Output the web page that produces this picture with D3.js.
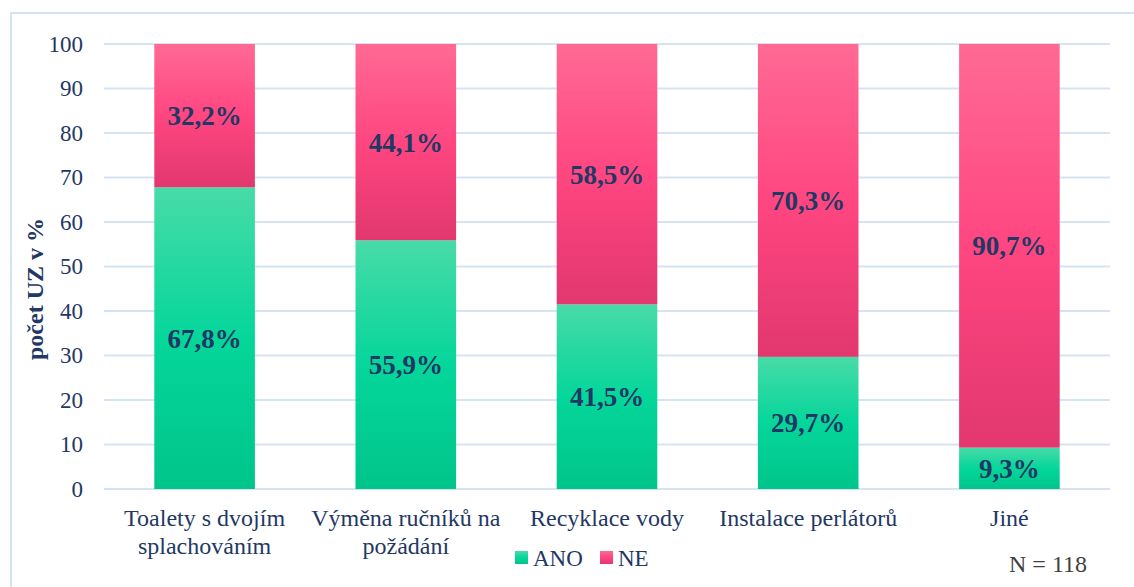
<!DOCTYPE html>
<html><head><meta charset="utf-8">
<script src="https://cdn.jsdelivr.net/npm/d3@7/dist/d3.min.js"></script>
</head><body style="margin:0">
<svg id="c" width="1134" height="587" font-family="Liberation Serif"></svg>
<script>
const categories = [["Toalety s dvojím","splachováním"],["Výměna ručníků na","požádání"],["Recyklace vody"],["Instalace perlátorů"],["Jiné"]];
const ano = [67.8, 55.9, 41.5, 29.7, 9.3];
const ne = [32.2, 44.1, 58.5, 70.3, 90.7];
const yTicks = [0,10,20,30,40,50,60,70,80,90,100];
const seriesNames = ["ANO","NE"];

const svg = d3.select("#c");
const txt = "#1f3864";
const FF = "Liberation Serif";
const defs = svg.append("defs");
function grad(id, stops){
  const g = defs.append("linearGradient").attr("id",id).attr("x1",0).attr("y1",0).attr("x2",0).attr("y2",1);
  stops.forEach(s=>g.append("stop").attr("offset",s[0]).attr("stop-color",s[1]));
}
grad("gAno",[[0,"#48dba8"],[0.5,"#05d69a"],[1,"#00c58b"]]);
grad("gNe",[[0,"#ff6a94"],[0.5,"#ff4681"],[1,"#e2376f"]]);

svg.append("rect").attr("x",11).attr("y",13).attr("width",1140).attr("height",600)
  .attr("fill","none").attr("stroke","#d3e2f4").attr("stroke-width",2);

const x = d3.scaleBand().domain(d3.range(categories.length)).range([104,1110]).paddingInner(0.5).paddingOuter(0.25);
const y = d3.scaleLinear().domain([0,100]).range([489,44]);

svg.append("g").selectAll("line").data(yTicks).join("line")
  .attr("x1",104).attr("x2",1110).attr("y1",d=>y(d)).attr("y2",d=>y(d))
  .attr("stroke","#d6e3f3").attr("stroke-width",2);

const yAxis = svg.append("g").attr("transform","translate(104,0)")
  .call(d3.axisLeft(y).tickValues(yTicks).tickSize(0).tickPadding(21));
yAxis.attr("font-family",FF).attr("font-size",23);
yAxis.select(".domain").remove();
yAxis.selectAll("text").style("font-family",FF).attr("font-size",23).attr("fill",txt);

const g = svg.append("g");
const fmt = v=>v.toFixed(1).replace(".",",")+"%";
categories.forEach((c,i)=>{
  const bx = x(i), bw = x.bandwidth();
  g.append("rect").attr("x",bx).attr("width",bw).attr("y",y(ano[i])).attr("height",y(0)-y(ano[i])).attr("fill","url(#gAno)");
  g.append("rect").attr("x",bx).attr("width",bw).attr("y",y(100)).attr("height",y(ano[i])-y(100)).attr("fill","url(#gNe)");
  g.append("text").attr("x",bx+bw/2).attr("y",(y(0)+y(ano[i]))/2).attr("dy","0.35em").style("font-family",FF)
    .attr("text-anchor","middle").attr("font-weight","bold").attr("font-size",27).attr("fill",txt).text(fmt(ano[i]));
  g.append("text").attr("x",bx+bw/2).attr("y",(y(ano[i])+y(100))/2).attr("dy","0.35em").style("font-family",FF)
    .attr("text-anchor","middle").attr("font-weight","bold").attr("font-size",27).attr("fill",txt).text(fmt(ne[i]));
  const t = svg.append("text").attr("x",bx+bw/2).attr("y",526).attr("text-anchor","middle").style("font-family",FF)
    .attr("font-size",24).attr("fill",txt);
  c.forEach((line,k)=>t.append("tspan").attr("x",bx+bw/2).attr("dy",k?28:0).text(line));
});

svg.append("text").attr("transform","translate(43,289) rotate(-90)").attr("text-anchor","middle").style("font-family",FF)
  .attr("font-weight","bold").attr("font-size",24).attr("fill",txt).text("počet UZ v %");

const leg = svg.append("g");
const lx = [515, 600];
seriesNames.forEach((n,i)=>{
  leg.append("rect").attr("x",lx[i]).attr("y",551).attr("width",13).attr("height",13).attr("fill",i?"url(#gNe)":"url(#gAno)");
  leg.append("text").attr("x",lx[i]+18).attr("y",566).style("font-family",FF).attr("font-size",23).attr("fill",txt).text(n);
});
svg.append("text").attr("x",1087).attr("y",572).attr("text-anchor","end").style("font-family",FF).attr("font-size",24).attr("fill","#404040").text("N = 118");
</script>
</body></html>
